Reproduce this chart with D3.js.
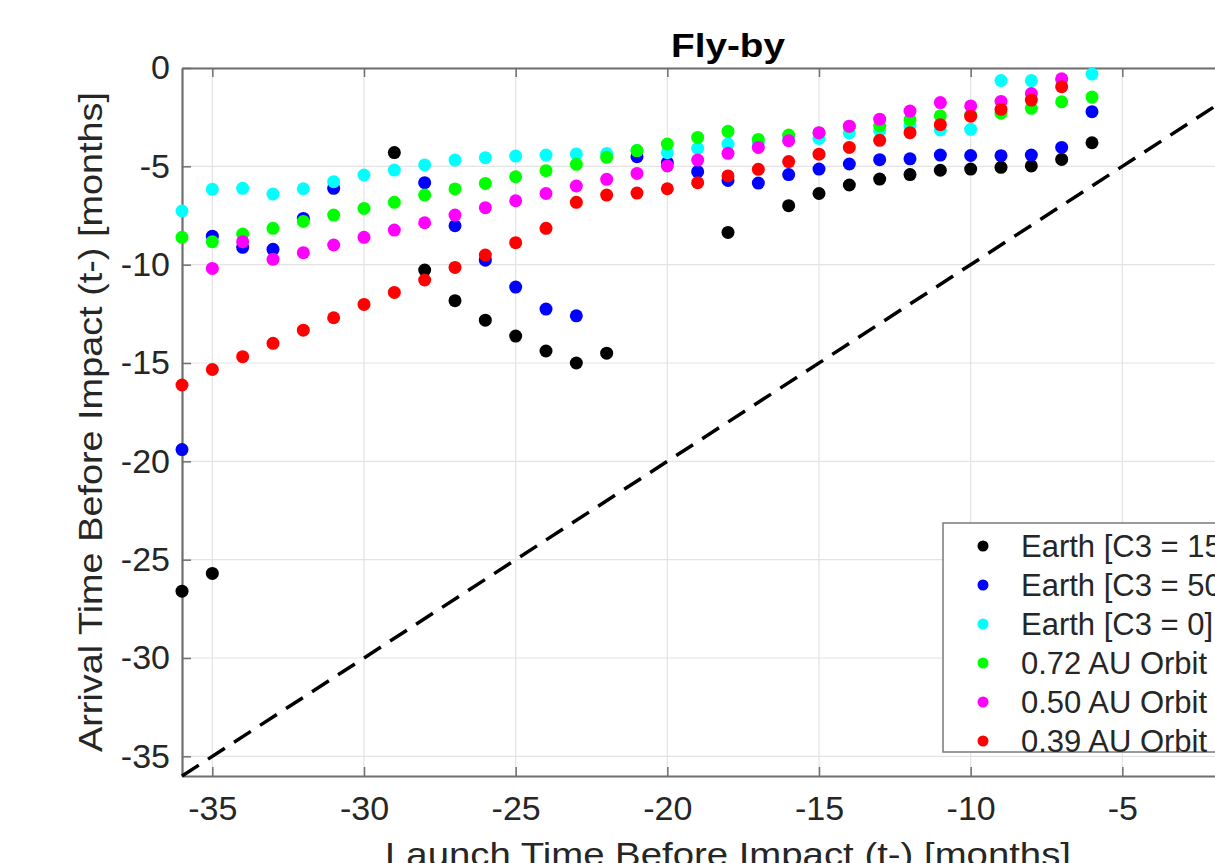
<!DOCTYPE html>
<html>
<head>
<meta charset="utf-8">
<script src="https://cdn.jsdelivr.net/npm/d3@7"></script>
<style>
  html, body { margin: 0; padding: 0; background: #fff; overflow: hidden; }
  svg { display: block; font-family: "Liberation Sans", Arial, sans-serif; }
</style>
</head>
<body>
<svg id="chart" width="1215" height="863"></svg>
<script>
// Launch month (t-) for each column of results
const launch = [-36, -35, -34, -33, -32, -31, -30, -29, -28, -27, -26, -25, -24, -23, -22, -21,
                -20, -19, -18, -17, -16, -15, -14, -13, -12, -11, -10, -9, -8, -7, -6];

// Arrival month (t-) per launch month; null where no fly-by solution exists
const earthC3_15 = [-26.6, -25.7, null, null, null, null, null, -4.3, -10.27, -11.83, -12.82, -13.63, -14.39, -15.0, -14.5, null,
                    null, null, -8.36, null, -7.0, -6.38, -5.95, -5.65, -5.42, -5.2, -5.14, -5.05, -4.98, -4.65, -3.8];
const earthC3_50 = [-19.4, -8.55, -9.12, -9.22, -7.65, -6.12, null, null, -5.83, -8.02, -9.77, -11.14, -12.26, -12.6, null, -4.51,
                    -4.81, -5.27, -5.72, -5.85, -5.42, -5.14, -4.88, -4.66, -4.62, -4.43, -4.45, -4.46, -4.43, -4.04, -2.22];
const earthC3_0 = [-7.27, -6.17, -6.12, -6.41, -6.14, -5.78, -5.44, -5.19, -4.93, -4.68, -4.56, -4.48, -4.43, -4.37, -4.35, -4.2,
                   -4.31, -4.09, -3.87, -3.8, -3.55, -3.58, -3.3, -3.19, -2.95, -3.15, -3.12, -0.64, -0.64, -0.6, -0.31];
const orbit072 = [-8.61, -8.83, -8.44, -8.15, -7.8, -7.48, -7.14, -6.83, -6.46, -6.15, -5.87, -5.53, -5.22, -4.9, -4.54, -4.2,
                  -3.87, -3.53, -3.22, -3.63, -3.41, -3.3, -2.98, -2.95, -2.64, -2.43, -2.4, -2.3, -2.05, -1.72, -1.48];
const orbit050 = [null, -10.19, -8.83, -9.73, -9.39, -9.0, -8.61, -8.24, -7.87, -7.48, -7.1, -6.75, -6.38, -6.0, -5.66, -5.36,
                  -4.98, -4.68, -4.34, -4.04, -3.7, -3.29, -2.96, -2.6, -2.19, -1.76, -1.93, -1.7, -1.3, -0.55, null];
const orbit039 = [-16.12, -15.33, -14.68, -14.0, -13.33, -12.7, -12.02, -11.41, -10.78, -10.14, -9.51, -8.88, -8.15, -6.83, -6.46, -6.36,
                  -6.14, -5.83, -5.49, -5.15, -4.76, -4.38, -4.04, -3.68, -3.29, -2.88, -2.45, -2.1, -1.63, -0.95, null];

const seriesNames = ["Earth [C3 = 15]", "Earth [C3 = 50]", "Earth [C3 = 0]", "0.72 AU Orbit", "0.50 AU Orbit", "0.39 AU Orbit"];
const seriesColors = ["#000000", "#0000ff", "#00ffff", "#00ff00", "#ff00ff", "#ff0000"];
const seriesValues = [earthC3_15, earthC3_50, earthC3_0, orbit072, orbit050, orbit039];

const xTicks = [-35, -30, -25, -20, -15, -10, -5];
const yTicks = [0, -5, -10, -15, -20, -25, -30, -35];

const svg = d3.select("#chart");
const W = 1215, H = 863;
svg.append("rect").attr("width", W).attr("height", H).attr("fill", "#fff");

// The axes box runs to launch month 0, past the right edge of the page
const plot = { left: 182, top: 68, right: 1274, bottom: 776 };
const x = d3.scaleLinear().domain([-36, 0]).range([plot.left, plot.right]);
const y = d3.scaleLinear().domain([-36, 0]).range([plot.bottom, plot.top]);

// Grid lines
const grid = svg.append("g").attr("stroke", "#e3e3e3").attr("stroke-width", 1.2);
grid.selectAll("line.gx").data(xTicks).join("line")
  .attr("x1", d => x(d)).attr("x2", d => x(d))
  .attr("y1", plot.top).attr("y2", plot.bottom);
grid.selectAll("line.gy").data(yTicks).join("line")
  .attr("x1", plot.left).attr("x2", plot.right)
  .attr("y1", d => y(d)).attr("y2", d => y(d));

// Axes (box style with inward ticks), plain hyphen minus signs
const axisColor = "#6e6e6e";
const tickFont = 34;
const fmt = d => String(d);

const xAxis = svg.append("g").attr("transform", `translate(0,${plot.bottom})`)
  .call(d3.axisBottom(x).tickValues(xTicks).tickFormat(fmt).tickSizeInner(-9).tickSizeOuter(0).tickPadding(20));
const xAxisTop = svg.append("g").attr("transform", `translate(0,${plot.top})`)
  .call(d3.axisTop(x).tickValues(xTicks).tickFormat("").tickSizeInner(-9).tickSizeOuter(0));
const yAxis = svg.append("g").attr("transform", `translate(${plot.left},0)`)
  .call(d3.axisLeft(y).tickValues(yTicks).tickFormat(fmt).tickSizeInner(-9).tickSizeOuter(0).tickPadding(12));

[xAxis, xAxisTop, yAxis].forEach(g => {
  g.select(".domain").attr("stroke", axisColor).attr("stroke-width", 2.2);
  g.selectAll(".tick line").attr("stroke", axisColor).attr("stroke-width", 1.5);
  g.selectAll(".tick text").attr("fill", "#262626").attr("font-size", tickFont)
    .attr("font-family", "'Liberation Sans', Arial, sans-serif");
});

// Reference line: arrival equals launch
svg.append("line")
  .attr("x1", x(-36)).attr("y1", y(-36))
  .attr("x2", x(0)).attr("y2", y(0))
  .attr("stroke", "#000").attr("stroke-width", 3.5)
  .attr("stroke-dasharray", "20,11");

// Scatter points, one group per target
seriesValues.forEach((vals, i) => {
  const pts = launch.map((lx, j) => ({ lx, ay: vals[j] })).filter(p => p.ay !== null);
  svg.append("g").selectAll("circle").data(pts).join("circle")
    .attr("cx", d => x(d.lx)).attr("cy", d => y(d.ay))
    .attr("r", 6.5).attr("fill", seriesColors[i]);
});

// Title
svg.append("text").attr("x", (plot.left + plot.right) / 2).attr("y", 57)
  .attr("text-anchor", "middle").attr("font-weight", "bold").attr("font-size", 33)
  .attr("textLength", 114).attr("lengthAdjust", "spacingAndGlyphs")
  .attr("fill", "#000").text("Fly-by");

// Axis labels
svg.append("text").attr("x", (plot.left + plot.right) / 2).attr("y", 866)
  .attr("text-anchor", "middle").attr("font-size", 34).attr("fill", "#262626")
  .attr("textLength", 686).attr("lengthAdjust", "spacingAndGlyphs")
  .text("Launch Time Before Impact (t-) [months]");
svg.append("text")
  .attr("transform", `translate(102,${(92 + 752) / 2}) rotate(-90)`)
  .attr("text-anchor", "middle").attr("font-size", 34).attr("fill", "#262626")
  .attr("textLength", 660).attr("lengthAdjust", "spacingAndGlyphs")
  .text("Arrival Time Before Impact (t-) [months]");

// Legend
const legend = svg.append("g").attr("transform", "translate(943,523)");
legend.append("rect").attr("width", 360).attr("height", 229)
  .attr("fill", "#fff").attr("stroke", "#7a7a7a").attr("stroke-width", 1.5);
const rows = legend.selectAll("g.row").data(seriesNames).join("g")
  .attr("transform", (d, i) => `translate(0,${23 + i * 39})`);
rows.append("circle").attr("cx", 40).attr("cy", 0).attr("r", 5.5)
  .attr("fill", (d, i) => seriesColors[i]);
rows.append("text").attr("x", 78).attr("y", 0).attr("dy", "0.35em")
  .attr("font-size", 31).attr("fill", "#262626").text(d => d);
</script>
</body>
</html>
